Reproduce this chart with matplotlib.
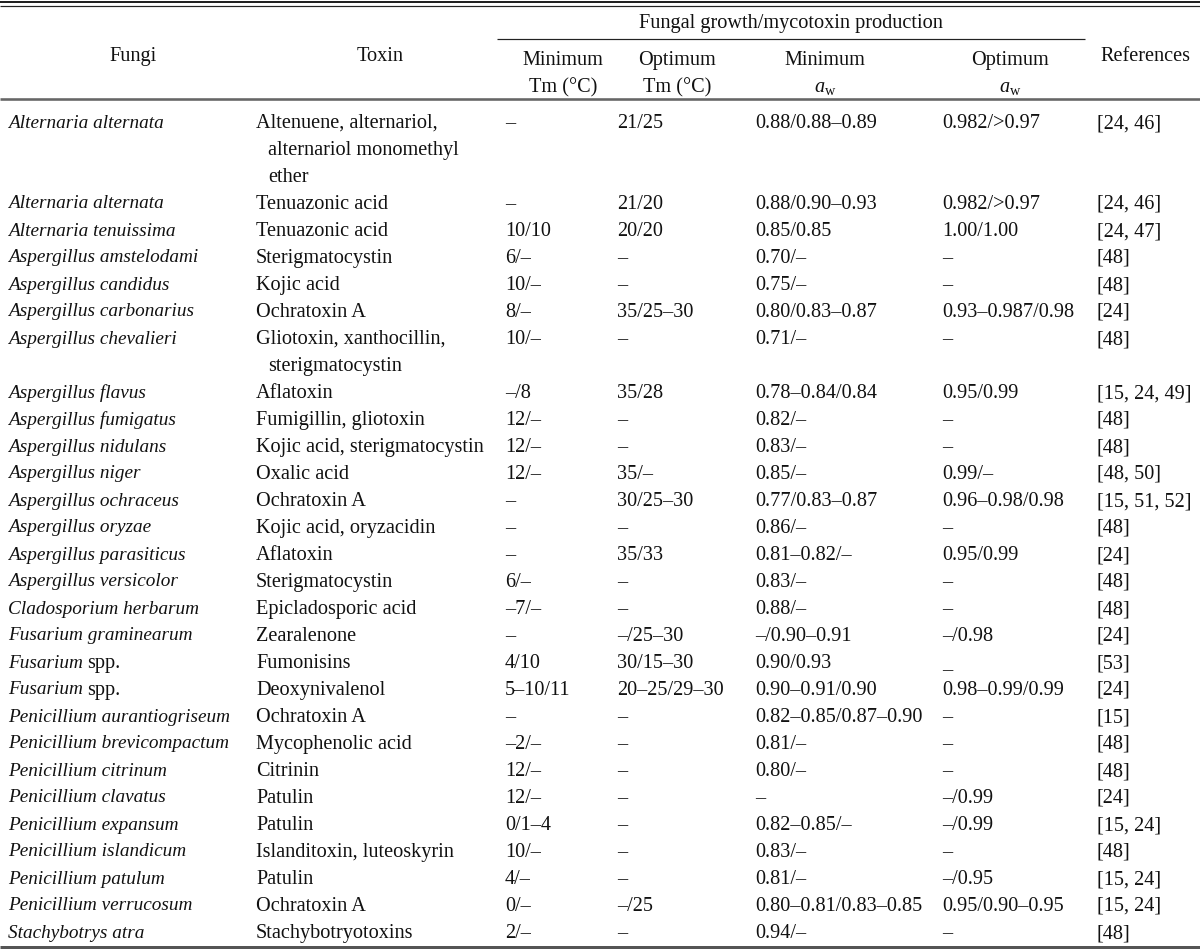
import matplotlib
matplotlib.use("Agg")
import matplotlib.pyplot as plt

plt.rcParams['font.family'] = ['Liberation Serif', 'DejaVu Serif']
plt.rcParams['mathtext.fontset'] = 'custom'
plt.rcParams['mathtext.rm'] = 'Liberation Serif'
plt.rcParams['mathtext.it'] = 'Liberation Serif:italic'

# ---------------- data ----------------
title = "Fungal growth/mycotoxin production"
col_headers = ["Fungi", "Toxin", "Minimum\nTm (°C)", "Optimum\nTm (°C)",
               "Minimum", "Optimum", "References"]

fungi = ["Alternaria alternata", "Alternaria alternata", "Alternaria tenuissima",
         "Aspergillus amstelodami", "Aspergillus candidus", "Aspergillus carbonarius",
         "Aspergillus chevalieri", "Aspergillus flavus", "Aspergillus fumigatus",
         "Aspergillus nidulans", "Aspergillus niger", "Aspergillus ochraceus",
         "Aspergillus oryzae", "Aspergillus parasiticus", "Aspergillus versicolor",
         "Cladosporium herbarum", "Fusarium graminearum", "Fusarium spp.",
         "Fusarium spp.", "Penicillium aurantiogriseum", "Penicillium brevicompactum",
         "Penicillium citrinum", "Penicillium clavatus", "Penicillium expansum",
         "Penicillium islandicum", "Penicillium patulum", "Penicillium verrucosum",
         "Stachybotrys atra"]

toxins = ["Altenuene, alternariol,\nalternariol monomethyl\nether", "Tenuazonic acid",
          "Tenuazonic acid", "Sterigmatocystin", "Kojic acid", "Ochratoxin A",
          "Gliotoxin, xanthocillin,\nsterigmatocystin", "Aflatoxin", "Fumigillin, gliotoxin",
          "Kojic acid, sterigmatocystin", "Oxalic acid", "Ochratoxin A",
          "Kojic acid, oryzacidin", "Aflatoxin", "Sterigmatocystin", "Epicladosporic acid",
          "Zearalenone", "Fumonisins", "Deoxynivalenol", "Ochratoxin A",
          "Mycophenolic acid", "Citrinin", "Patulin", "Patulin",
          "Islanditoxin, luteoskyrin", "Patulin", "Ochratoxin A", "Stachybotryotoxins"]

min_tm = ["–", "–", "10/10", "6/–", "10/–", "8/–", "10/–", "–/8", "12/–", "12/–",
          "12/–", "–", "–", "–", "6/–", "–7/–", "–", "4/10", "5–10/11", "–", "–2/–",
          "12/–", "12/–", "0/1–4", "10/–", "4/–", "0/–", "2/–"]

opt_tm = ["21/25", "21/20", "20/20", "–", "–", "35/25–30", "–", "35/28", "–", "–",
          "35/–", "30/25–30", "–", "35/33", "–", "–", "–/25–30", "30/15–30",
          "20–25/29–30", "–", "–", "–", "–", "–", "–", "–", "–/25", "–"]

min_aw = ["0.88/0.88–0.89", "0.88/0.90–0.93", "0.85/0.85", "0.70/–", "0.75/–",
          "0.80/0.83–0.87", "0.71/–", "0.78–0.84/0.84", "0.82/–", "0.83/–", "0.85/–",
          "0.77/0.83–0.87", "0.86/–", "0.81–0.82/–", "0.83/–", "0.88/–", "–/0.90–0.91",
          "0.90/0.93", "0.90–0.91/0.90", "0.82–0.85/0.87–0.90", "0.81/–", "0.80/–", "–",
          "0.82–0.85/–", "0.83/–", "0.81/–", "0.80–0.81/0.83–0.85", "0.94/–"]

opt_aw = ["0.982/>0.97", "0.982/>0.97", "1.00/1.00", "–", "–", "0.93–0.987/0.98", "–",
          "0.95/0.99", "–", "–", "0.99/–", "0.96–0.98/0.98", "–", "0.95/0.99", "–", "–",
          "–/0.98", "_", "0.98–0.99/0.99", "–", "–", "–", "–/0.99", "–/0.99", "–",
          "–/0.95", "0.95/0.90–0.95", "–"]

refs = ["[24, 46]", "[24, 46]", "[24, 47]", "[48]", "[48]", "[24]", "[48]",
        "[15, 24, 49]", "[48]", "[48]", "[48, 50]", "[15, 51, 52]", "[48]", "[24]",
        "[48]", "[48]", "[24]", "[53]", "[24]", "[15]", "[48]", "[48]", "[24]",
        "[15, 24]", "[48]", "[15, 24]", "[15, 24]", "[48]"]

# ---------------- layout ----------------
W, H = 1200, 952
fig = plt.figure(figsize=(W / 100, H / 100), dpi=100)
ax = fig.add_axes([0, 0, 1, 1])
ax.set_xlim(0, W)
ax.set_ylim(H, 0)
ax.axis('off')

FS = 14.6
FS_IT = 13.9
TC = '#111111'
px = 0.72  # points per pixel

col_x = [8, 256, 505, 617, 755, 942, 1097]
hdr_cx = [133, 380, 563, 677, 825, 1010, 1145]

# rules
ax.plot([0, W], [1.5, 1.5], color='#222222', lw=2 * px, solid_capstyle='butt')
ax.plot([0, W], [5.5, 5.5], color='#222222', lw=1.2 * px, solid_capstyle='butt')
ax.plot([497, 1085], [39, 39], color='#222222', lw=1.2 * px, solid_capstyle='butt')
ax.plot([0, W], [99, 99], color='#666666', lw=2.6 * px, solid_capstyle='butt')
ax.plot([0, W], [946.5, 946.5], color='#555555', lw=3 * px, solid_capstyle='butt')

# header
ax.text(791, 21, title, ha='center', va='center_baseline', fontsize=FS, color=TC)
for i, h in enumerate(col_headers):
    if i in (0, 1, 6):
        ax.text(hdr_cx[i], 54, h, ha='center', va='center_baseline', fontsize=FS, color=TC)
    elif i in (2, 3):
        l1, l2 = h.split("\n")
        ax.text(hdr_cx[i], 58, l1, ha='center', va='center_baseline', fontsize=FS, color=TC)
        ax.text(hdr_cx[i], 85, l2, ha='center', va='center_baseline', fontsize=FS, color=TC)
    else:
        ax.text(hdr_cx[i], 58, h, ha='center', va='center_baseline', fontsize=FS, color=TC)
        ax.text(hdr_cx[i], 85, r'$a_{\mathrm{w}}$', ha='center', va='center_baseline',
                fontsize=FS, color=TC)

# body
fig.canvas.draw()
renderer = fig.canvas.get_renderer()
LS = 27.0
y = 121.0
for r in range(len(fungi)):
    name = fungi[r]
    if name.endswith(" spp."):
        t = ax.text(col_x[0], y, name.split()[0], ha='left', va='center_baseline',
                    fontsize=FS_IT, color=TC, fontstyle='italic')
        bb = t.get_window_extent(renderer=renderer)
        x_end = ax.transData.inverted().transform((bb.x1, bb.y0))[0]
        ax.text(x_end + 4, y, "spp.", ha='left', va='center_baseline',
                fontsize=FS, color=TC)
    else:
        ax.text(col_x[0], y, name, ha='left', va='center_baseline', fontsize=FS_IT,
                color=TC, fontstyle='italic')
    tlines = toxins[r].split("\n")
    for k, tl in enumerate(tlines):
        ax.text(col_x[1] + (12 if k > 0 else 0), y + k * LS, tl, ha='left',
                va='center_baseline', fontsize=FS, color=TC)
    for c, vals in zip(range(2, 7), (min_tm, opt_tm, min_aw, opt_aw, refs)):
        ax.text(col_x[c], y, vals[r], ha='left', va='center_baseline', fontsize=FS, color=TC)
    y += LS * len(tlines)

fig.savefig("out.png", dpi=100)
